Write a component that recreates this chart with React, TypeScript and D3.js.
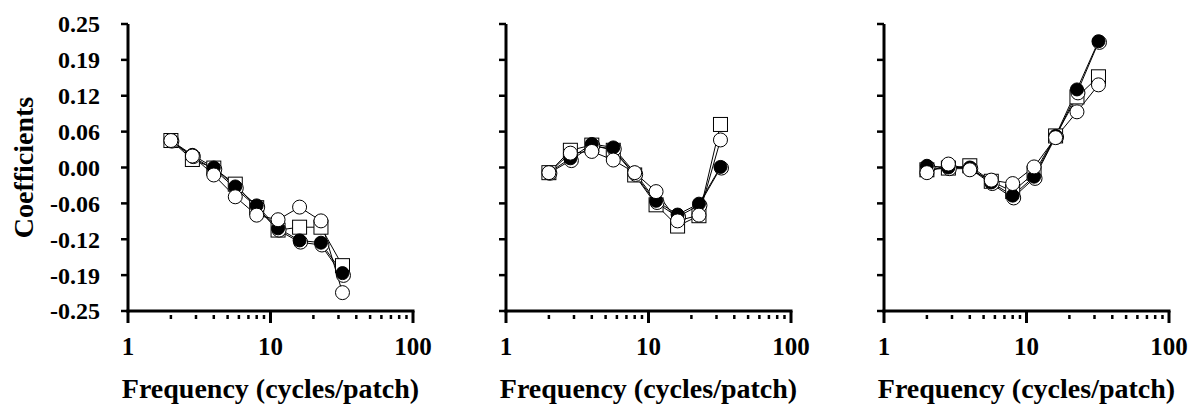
import React from 'react';
import { scaleLog, scaleLinear, line } from 'd3';

// spatial frequency (cycles/patch)
const freqs = [2, 2.83, 4, 5.66, 8, 11.3, 16, 22.6, 32];

const yTickValues = [-0.25, -0.1875, -0.125, -0.0625, 0, 0.0625, 0.125, 0.1875, 0.25];
const yTickLabels = ['-0.25', '-0.19', '-0.12', '-0.06', '0.00', '0.06', '0.12', '0.19', '0.25'];
const xMajor = [1, 10, 100];
const xMinor = [2, 3, 4, 5, 6, 7, 8, 9, 20, 30, 40, 50, 60, 70, 80, 90];

// panel 1
const p1Filled = [0.047, 0.022, 0.0, -0.033, -0.066, -0.106, -0.127, -0.131, -0.184];
const p1Halo = [0.046, 0.019, -0.003, -0.036, -0.069, -0.109, -0.130, -0.135, -0.188];
const p1Square = [0.047, 0.014, -0.001, -0.029, -0.070, -0.109, -0.104, -0.104, -0.171];
const p1Open = [0.047, 0.020, -0.013, -0.051, -0.083, -0.091, -0.069, -0.093, -0.218];

// panel 2
const p2Filled = [-0.009, 0.016, 0.041, 0.035, -0.009, -0.058, -0.082, -0.063, 0.001];
const p2Halo = [-0.010, 0.012, 0.038, 0.032, -0.012, -0.061, -0.086, -0.066, -0.001];
const p2Square = [-0.009, 0.030, 0.039, 0.030, -0.013, -0.065, -0.102, -0.084, 0.075];
const p2Open = [-0.009, 0.025, 0.028, 0.013, -0.009, -0.042, -0.093, -0.083, 0.048];

// panel 3
const p3Filled = [0.003, 0.0, 0.0, -0.026, -0.049, -0.016, 0.055, 0.136, 0.220];
const p3Halo = [0.0, -0.002, -0.002, -0.028, -0.053, -0.019, 0.053, 0.130, 0.218];
const p3Square = [-0.004, -0.001, 0.003, -0.024, -0.042, -0.010, 0.055, 0.123, 0.158];
const p3Open = [-0.009, 0.006, -0.004, -0.022, -0.028, 0.001, 0.052, 0.097, 0.144];

const panels = [
  { filled: p1Filled, halo: p1Halo, square: p1Square, open: p1Open },
  { filled: p2Filled, halo: p2Halo, square: p2Square, open: p2Open },
  { filled: p3Filled, halo: p3Halo, square: p3Square, open: p3Open },
];

const FONT = '"Liberation Serif", "Times New Roman", serif';
const W = 285;
const H = 287;
const R = 7;

const x = scaleLog().domain([1, 100]).range([0, W]);
const y = scaleLinear().domain([-0.25, 0.25]).range([H, 0]);

const Panel = ({ data, left, showY }: { data: any; left: number; showY: boolean }) => {
  const path = line<number>()
    .x((d, i) => x(freqs[i]))
    .y((d) => y(d));

  return (
    <g transform={`translate(${left}, 24)`}>
      {/* lines */}
      {[data.square, data.halo, data.filled, data.open].map((vals: number[], k: number) => (
        <path key={k} d={path(vals) || ''} fill="none" stroke="#000" strokeWidth={1} />
      ))}
      {/* markers */}
      {data.square.map((v: number, i: number) => (
        <rect key={'s' + i} x={x(freqs[i]) - R} y={y(v) - R} width={2 * R} height={2 * R}
          fill="#fff" stroke="#000" strokeWidth={1} />
      ))}
      {data.halo.map((v: number, i: number) => (
        <circle key={'h' + i} cx={x(freqs[i]) + 1} cy={y(v)} r={R} fill="#fff" stroke="#000" strokeWidth={1} />
      ))}
      {data.filled.map((v: number, i: number) => (
        <circle key={'f' + i} cx={x(freqs[i])} cy={y(v)} r={R - 0.5} fill="#000" stroke="#000" strokeWidth={1} />
      ))}
      {data.open.map((v: number, i: number) => (
        <circle key={'o' + i} cx={x(freqs[i])} cy={y(v)} r={R} fill="#fff" stroke="#000" strokeWidth={1} />
      ))}

      {/* y axis */}
      <line x1={0} x2={0} y1={0} y2={H + 1.5} stroke="#000" strokeWidth={3} />
      {yTickValues.map((t, i) => (
        <g key={'yt' + i}>
          <line x1={-7} x2={0} y1={y(t)} y2={y(t)} stroke="#000" strokeWidth={2.5} />
          {showY && (
            <text x={-28} y={y(t)} dy="0.35em" textAnchor="end" fontFamily={FONT}
              fontWeight="bold" fontSize={24} fill="#000">{yTickLabels[i]}</text>
          )}
        </g>
      ))}

      {/* x axis */}
      <line x1={-1.5} x2={W + 1.5} y1={H} y2={H} stroke="#000" strokeWidth={3} />
      {xMajor.map((t) => (
        <g key={'xm' + t}>
          <line x1={x(t)} x2={x(t)} y1={H} y2={H + 12} stroke="#000" strokeWidth={3} />
          <text x={x(t)} y={H + 44} textAnchor="middle" fontFamily={FONT}
            fontWeight="bold" fontSize={25} fill="#000">{t}</text>
        </g>
      ))}
      {xMinor.map((t) => (
        <line key={'xn' + t} x1={x(t)} x2={x(t)} y1={H + 4} y2={H + 8} stroke="#000" strokeWidth={2.5} />
      ))}
      <text x={W / 2} y={H + 87} textAnchor="middle" fontFamily={FONT}
        fontWeight="bold" fontSize={28} fill="#000">Frequency (cycles/patch)</text>

      {showY && (
        <text transform={`translate(-95, ${H / 2}) rotate(-90)`} textAnchor="middle"
          fontFamily={FONT} fontWeight="bold" fontSize={28} fill="#000">Coefficients</text>
      )}
    </g>
  );
};

export default function App() {
  const lefts = [128, 506, 884];
  return (
    <svg width={1195} height={405} style={{ position: 'absolute', left: 0, top: 0, background: '#fff' }}>
      <rect width={1195} height={405} fill="#fff" />
      {panels.map((p, i) => (
        <Panel key={i} data={p} left={lefts[i]} showY={i === 0} />
      ))}
    </svg>
  );
}
